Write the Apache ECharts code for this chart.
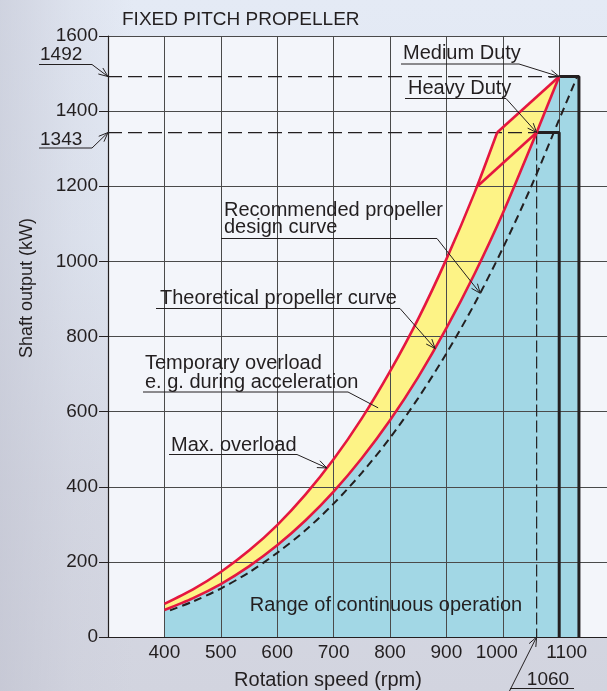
<!DOCTYPE html>
<html>
<head>
<meta charset="utf-8">
<script src="https://cdn.jsdelivr.net/npm/echarts@6/dist/echarts.min.js"></script>
<style>
  html, body { margin:0; padding:0; }
  body {
    width:607px; height:691px; overflow:hidden;
    background:
      linear-gradient(90deg, rgba(190,192,206,0.55) 0%, rgba(200,202,215,0.25) 12%, rgba(255,255,255,0) 22%),
      linear-gradient(180deg, #e4eaf5 0%, #e0e6f1 35%, #d6d9e4 70%, #d2d4df 100%);
  }
  #chart { width:607px; height:691px; }
</style>
</head>
<body>
<div id="chart"></div>
<script>
// ---- data ----
const xTicks = [400, 500, 600, 700, 800, 900, 1000, 1100];
const yTicks = [0, 200, 400, 600, 800, 1000, 1200, 1400, 1600];

// Max. overload (upper red) curve, then straight to Medium Duty point
const upperRpm = [400, 450, 500, 550, 600, 650, 700, 750, 800, 850, 900, 950, 990, 1100];
const upperKW  = [88, 126, 173, 230, 298, 379, 473, 582, 707, 847, 1006, 1183, 1343, 1492];

// Theoretical propeller curve (lower red), through Heavy Duty point, then to Medium Duty point
const lowerRpm = [400, 450, 500, 550, 600, 650, 700, 750, 800, 850, 900, 950, 1000, 1060, 1100];
const lowerKW  = [72, 103, 141, 188, 244, 310, 387, 476, 577, 692, 822, 967, 1128, 1343, 1492];

// Recommended propeller design curve (dashed)
const designRpm = [410, 450, 500, 550, 600, 650, 700, 750, 800, 850, 900, 950, 1000, 1050, 1100, 1132];
const designKW  = [71, 94, 129, 172, 224, 284, 355, 437, 530, 636, 755, 887, 1035, 1198, 1378, 1492];

// Diagonal red line (upper curve -> Heavy Duty point)
const diagRpm = [955, 1060];
const diagKW  = [1200, 1343];

// Duty limits
const heavyDuty  = [1060, 1343];
const mediumDuty = [1100, 1492];
const boxRightRpm = [1100, 1135];   // right edges of heavy / medium duty boxes
const axisMinRpm = 300;

function zip(a, b) { return a.map((v, i) => [v, b[i]]); }

const RED = '#e5173f', BLUE = '#a2d7e5', YELLOW = '#fdf386', INK = '#231f20';
const FONT = '"Liberation Sans", Arial, Helvetica, sans-serif';

const blueFill = zip(lowerRpm, lowerKW).concat([[boxRightRpm[1], mediumDuty[1]], [boxRightRpm[1], 0]]);
const yellowFill = zip(upperRpm, upperKW);

const chart = echarts.init(document.getElementById('chart'), null, { renderer: 'canvas' });

const option = {
  backgroundColor: 'transparent',
  animation: false,
  title: {
    text: 'FIXED PITCH PROPELLER',
    left: 117, top: 5,
    textStyle: { fontFamily: FONT, fontSize: 19, fontWeight: 'normal', color: INK }
  },
  grid: {
    left: 108, top: 36, height: 601, width: 507.6,
    outerBoundsMode: 'none', containLabel: false,
    show: true, backgroundColor: '#f3f5fa', borderWidth: 0
  },
  xAxis: {
    type: 'value', min: axisMinRpm, max: 1200, interval: 100, z: 3,
    axisLine: { show: true, lineStyle: { color: INK, width: 1.2 } },
    axisTick: { show: false },
    splitLine: { show: true, lineStyle: { color: '#4a4a4a', width: 1 } },
    axisLabel: {
      margin: 6, color: INK, fontFamily: FONT, fontSize: 19,
      formatter: v => {
        if (xTicks.indexOf(v) < 0) return '';
        if (v === 1000) return '{l|' + v + '}';
        if (v === 1100) return '{r|' + v + '}';
        return '{n|' + v + '}';
      },
      rich: {
        n: { fontFamily: FONT, fontSize: 19, color: INK },
        l: { fontFamily: FONT, fontSize: 19, color: INK, padding: [0, 12, 0, 0] },
        r: { fontFamily: FONT, fontSize: 19, color: INK, padding: [0, 0, 0, 15] }
      }
    }
  },
  yAxis: {
    type: 'value', min: 0, max: 1600, interval: 200, z: 3,
    axisLine: { show: true, lineStyle: { color: INK, width: 1.2 } },
    axisTick: { show: true, length: 9, lineStyle: { color: INK, width: 1 } },
    splitLine: { show: true, lineStyle: { color: '#4a4a4a', width: 1 } },
    axisLabel: {
      margin: 10, color: INK, fontFamily: FONT, fontSize: 19,
      formatter: v => yTicks.indexOf(v) >= 0 ? String(v) : ''
    }
  },
  series: [
    { // yellow band (under max overload boundary)
      type: 'line', data: yellowFill, symbol: 'none', z: 1,
      lineStyle: { width: 0 }, areaStyle: { color: YELLOW, opacity: 1 }
    },
    { // blue range of continuous operation
      type: 'line', data: blueFill, symbol: 'none', z: 2,
      lineStyle: { width: 0 }, areaStyle: { color: BLUE, opacity: 1 }
    },
    { // dashed reference lines to 1492 / 1343 and vertical at 1060
      type: 'line', symbol: 'none', z: 4,
      data: [[axisMinRpm, mediumDuty[1]], [mediumDuty[0], mediumDuty[1]]],
      lineStyle: { color: INK, width: 1.2, type: [14, 6] }
    },
    {
      type: 'line', symbol: 'none', z: 4,
      data: [[axisMinRpm, heavyDuty[1]], [heavyDuty[0], heavyDuty[1]]],
      lineStyle: { color: INK, width: 1.2, type: [14, 6] }
    },
    {
      type: 'line', symbol: 'none', z: 4,
      data: [[heavyDuty[0], heavyDuty[1]], [heavyDuty[0], 0]],
      lineStyle: { color: INK, width: 1.2, type: [12, 4] }
    },
    { // recommended design curve (dashed)
      type: 'line', symbol: 'none', z: 5, smooth: 0.3,
      data: zip(designRpm, designKW),
      lineStyle: { color: INK, width: 2, type: [8, 5] }
    },
    { // thick duty boxes
      type: 'line', symbol: 'none', z: 6,
      data: [heavyDuty, [boxRightRpm[0], heavyDuty[1]], [boxRightRpm[0], 0]],
      lineStyle: { color: INK, width: 3 }
    },
    {
      type: 'line', symbol: 'none', z: 6,
      data: [mediumDuty, [boxRightRpm[1], mediumDuty[1]], [boxRightRpm[1], 0]],
      lineStyle: { color: INK, width: 3 }
    },
    { // red lines
      type: 'line', symbol: 'none', z: 7, smooth: 0.25,
      data: zip(upperRpm.slice(0, -1), upperKW.slice(0, -1)),
      lineStyle: { color: RED, width: 2.6 }
    },
    {
      type: 'line', symbol: 'none', z: 7,
      data: zip(upperRpm.slice(-2), upperKW.slice(-2)),
      lineStyle: { color: RED, width: 2.6 }
    },
    {
      type: 'line', symbol: 'none', z: 7, smooth: 0.25,
      data: zip(lowerRpm.slice(0, -1), lowerKW.slice(0, -1)),
      lineStyle: { color: RED, width: 2.6 }
    },
    {
      type: 'line', symbol: 'none', z: 7,
      data: zip(lowerRpm.slice(-2), lowerKW.slice(-2)),
      lineStyle: { color: RED, width: 2.6 }
    },
    {
      type: 'line', symbol: 'none', z: 7,
      data: zip(diagRpm, diagKW),
      lineStyle: { color: RED, width: 2.6 }
    }
  ]
};
chart.setOption(option);

// ---- annotations (text in pixels, leader tips in data coords) ----
function P(d) { return chart.convertToPixel({ gridIndex: 0 }, d); }
const g = [];
function text(t, x, y, size, align) {
  g.push({ type: 'text', z: 100, style: { text: t, x: x, y: y, font: (size || 20) + 'px ' + FONT,
    fill: INK, textAlign: align || 'left', textVerticalAlign: 'middle' } });
}
function poly(pts, arrow) {
  g.push({ type: 'polyline', z: 100, shape: { points: pts }, style: { stroke: INK, lineWidth: 1, fill: null } });
  if (arrow) {
    const t = pts[pts.length - 1], p = pts[pts.length - 2];
    const dx = t[0] - p[0], dy = t[1] - p[1], L = Math.hypot(dx, dy), ux = dx / L, uy = dy / L;
    const a = 22 * Math.PI / 180, len = 10;
    const r = (ang) => [t[0] - len * (ux * Math.cos(ang) - uy * Math.sin(ang)),
                        t[1] - len * (uy * Math.cos(ang) + ux * Math.sin(ang))];
    g.push({ type: 'polyline', z: 100, shape: { points: [r(a), t, r(-a)] }, style: { stroke: INK, lineWidth: 1, fill: null } });
  }
}

// Medium / Heavy duty
text('Medium Duty', 403, 53);
poly([[401, 64], [519, 64], P(mediumDuty)], true);
text('Heavy Duty', 408, 88);
poly([[405, 98.5], [506, 98.5], P(heavyDuty)], true);

// Recommended propeller design curve -> dashed curve
text('Recommended propeller', 224, 210);
text('design curve', 224, 227);
poly([[221, 238.5], [437, 238.5], P([960, 915])], true);

// Theoretical propeller curve -> lower red
text('Theoretical propeller curve', 160, 298);
poly([[156, 308.5], [400, 308.5], P([880, 768])], true);

// Temporary overload
text('Temporary overload', 145, 363);
text('e. g. during acceleration', 145, 382);
poly([[143, 392], [348, 392], P([779, 610])], false);

// Max overload -> upper red
text('Max. overload', 171, 445);
poly([[169, 454.5], [297, 454.5], P([688, 450])], true);

// Range of continuous operation
text('Range of continuous operation', 386, 605, 20, 'center');

// Left value call-outs
text('1492', 40, 55, 19);
poly([[39, 64.5], [92, 64.5], P([axisMinRpm, mediumDuty[1]])], true);
text('1343', 40, 140, 19);
poly([[39, 148], [92, 148], P([axisMinRpm, heavyDuty[1]])], true);

// 1060 call-out under the axis
text('1060', 548, 680, 19, 'center');
poly([[510, 688.5], [574, 688.5]], false);
poly([[509, 692], P([heavyDuty[0], 0])], true);

// Axis names
text('Rotation speed (rpm)', 328, 680, 20, 'center');
g.push({ type: 'text', z: 100, x: 27, y: 288, rotation: Math.PI / 2,
  style: { text: 'Shaft output (kW)', x: 0, y: 0, font: '18px ' + FONT, fill: INK,
    textAlign: 'center', textVerticalAlign: 'middle' } });

chart.setOption({ graphic: g });
</script>
</body>
</html>
